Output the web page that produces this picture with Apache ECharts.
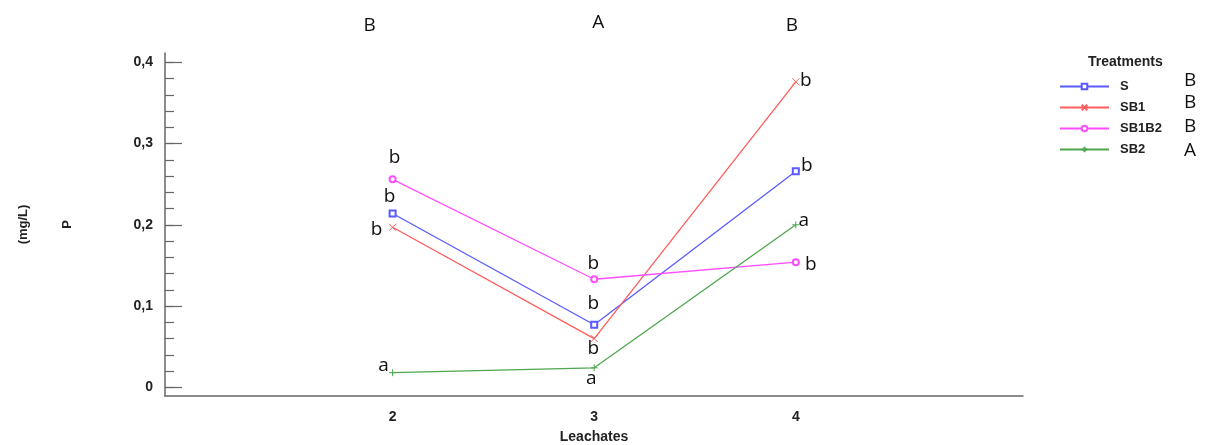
<!DOCTYPE html>
<html><head><meta charset="utf-8">
<script src="https://cdn.jsdelivr.net/npm/echarts@6/dist/echarts.min.js"></script>
<style>html,body{margin:0;padding:0;background:#fff}#c{width:1211px;height:445px}</style>
</head><body><div id="c"></div>
<script>
// ---- data ----
const leachates = [2, 3, 4];
const seriesNames = ['S', 'SB1', 'SB1B2', 'SB2'];
const valS = [0.214, 0.077, 0.266];
const valSB1 = [0.197, 0.060, 0.376];
const valSB1B2 = [0.256, 0.133, 0.154];
const valSB2 = [0.018, 0.024, 0.200];
const lettersS = ['b', 'b', 'b'];
const lettersSB1 = ['b', 'b', 'b'];
const lettersSB1B2 = ['b', 'b', 'b'];
const lettersSB2 = ['a', 'a', 'a'];
const groupLetters = ['B', 'A', 'B'];
const treatmentLetters = ['B', 'B', 'B', 'A'];
const yMajorTicks = [0, 0.1, 0.2, 0.3, 0.4];
const yMinorTicks = [0, 0.02, 0.04, 0.06, 0.08, 0.1, 0.12, 0.14, 0.16, 0.18, 0.2, 0.22, 0.24, 0.26, 0.28, 0.3, 0.32, 0.34, 0.36, 0.38, 0.4];

// ---- styling ----
const colors = ['#5a5aff', '#ff5c5c', '#ff4dff', '#4ea64e'];
const symbols = ['emptyRect', 'path://M0,0L10,10M10,0L0,10', 'emptyCircle', 'path://M5,0L5,10M0,5L10,5'];
const symbolSizes = [6, 7, 6, 7];
const labelOffsets = [
  [[-3, -17], [-1, -21], [11, -6]],
  [[-16, 2], [-1, 10], [10, -1]],
  [[2, -22], [-1, -16], [15, 2]],
  [[-9, -7], [-3, 11], [8, -4]]
];
const allVals = [valS, valSB1, valSB1B2, valSB2];
const allLetters = [lettersS, lettersSB1, lettersSB1B2, lettersSB2];
const letterFont = '"Open Sans", "Noto Sans", sans-serif';
const boldFont = '"Liberation Sans", Arial, sans-serif';

const chart = echarts.init(document.getElementById('c'));

const series = seriesNames.map((name, si) => ({
  name: name,
  type: 'line',
  symbol: symbols[si],
  symbolSize: symbolSizes[si],
  lineStyle: { color: colors[si], width: 1.3 },
  itemStyle: { color: colors[si], borderColor: colors[si], borderWidth: 1 },
  emphasis: { disabled: true },
  animation: false,
  data: leachates.map((x, i) => ({
    value: [x, allVals[si][i]],
    label: {
      show: true,
      position: 'inside',
      offset: labelOffsets[si][i],
      formatter: allLetters[si][i],
      fontFamily: letterFont,
      fontSize: 19,
      color: '#111'
    }
  }))
}));

chart.setOption({
  animation: false,
  grid: { left: 165, right: 188, top: 53, bottom: 49, containLabel: false, outerBoundsMode: 'none' },
  legend: {
    orient: 'vertical',
    left: 1054,
    top: 75,
    itemWidth: 49,
    itemHeight: 7,
    itemGap: 8,
    data: seriesNames,
    textStyle: { fontFamily: boldFont, fontWeight: 'bold', fontSize: 13, color: '#222', padding: [0, 0, 0, 6] }
  },
  xAxis: {
    type: 'value',
    min: 0.871,
    max: 5.127,
    name: 'Leachates',
    nameLocation: 'middle',
    nameGap: 34,
    nameTextStyle: { fontFamily: boldFont, fontWeight: 'bold', fontSize: 14, color: '#222' },
    axisLine: { show: true, onZero: false, lineStyle: { color: '#666', width: 1.5 } },
    axisTick: { show: false },
    splitLine: { show: false },
    axisLabel: {
      customValues: leachates,
      margin: 14,
      fontFamily: boldFont, fontWeight: 'bold', fontSize: 14, color: '#222'
    }
  },
  yAxis: [{
    type: 'value',
    min: -0.0107,
    max: 0.4115,
    name: 'P',
    nameLocation: 'middle',
    nameGap: 91,
    nameRotate: 90,
    nameTextStyle: { fontFamily: boldFont, fontWeight: 'bold', fontSize: 13, color: '#222' },
    axisLine: { show: true, onZero: false, lineStyle: { color: '#666', width: 1.5 } },
    axisTick: { show: true, inside: true, length: 17, customValues: yMajorTicks, lineStyle: { color: '#666', width: 1.2 } },
    splitLine: { show: false },
    axisLabel: {
      customValues: yMajorTicks,
      margin: 12,
      formatter: v => String(Math.round(v * 10) / 10).replace('.', ','),
      fontFamily: boldFont, fontWeight: 'bold', fontSize: 14, color: '#222'
    }
  }, {
    type: 'value',
    min: -0.0107,
    max: 0.4115,
    position: 'left',
    name: '(mg/L)',
    nameLocation: 'middle',
    nameGap: 135,
    nameRotate: 90,
    nameTextStyle: { fontFamily: boldFont, fontWeight: 'bold', fontSize: 13, color: '#222' },
    axisLine: { show: false, onZero: false },
    axisTick: { show: true, inside: true, length: 9, customValues: yMinorTicks, lineStyle: { color: '#666', width: 1.2 } },
    splitLine: { show: false },
    axisLabel: { show: false }
  }],
  series: series
});

// ---- annotations ----
const groupLetterDx = [-22, 5, -3];
const groupLetterDy = [4, 1, 4];
const graphics = [];
leachates.forEach((x, i) => {
  const px = chart.convertToPixel({ xAxisIndex: 0 }, x);
  graphics.push({
    type: 'text', left: px + groupLetterDx[i] - 7, top: 12 + groupLetterDy[i],
    style: { text: groupLetters[i], font: '19px ' + letterFont, fill: '#111' }
  });
});
graphics.push({
  type: 'text', left: 1088, top: 55,
  style: { text: 'Treatments', font: 'bold 14px ' + boldFont, fill: '#222' }
});
const legendLetterY = [84, 106, 130, 154];
treatmentLetters.forEach((t, i) => {
  graphics.push({
    type: 'text', left: 1184, top: legendLetterY[i] - 13,
    style: { text: t, font: '19px ' + letterFont, fill: '#111' }
  });
});
chart.setOption({ graphic: graphics });
</script>
</body></html>
